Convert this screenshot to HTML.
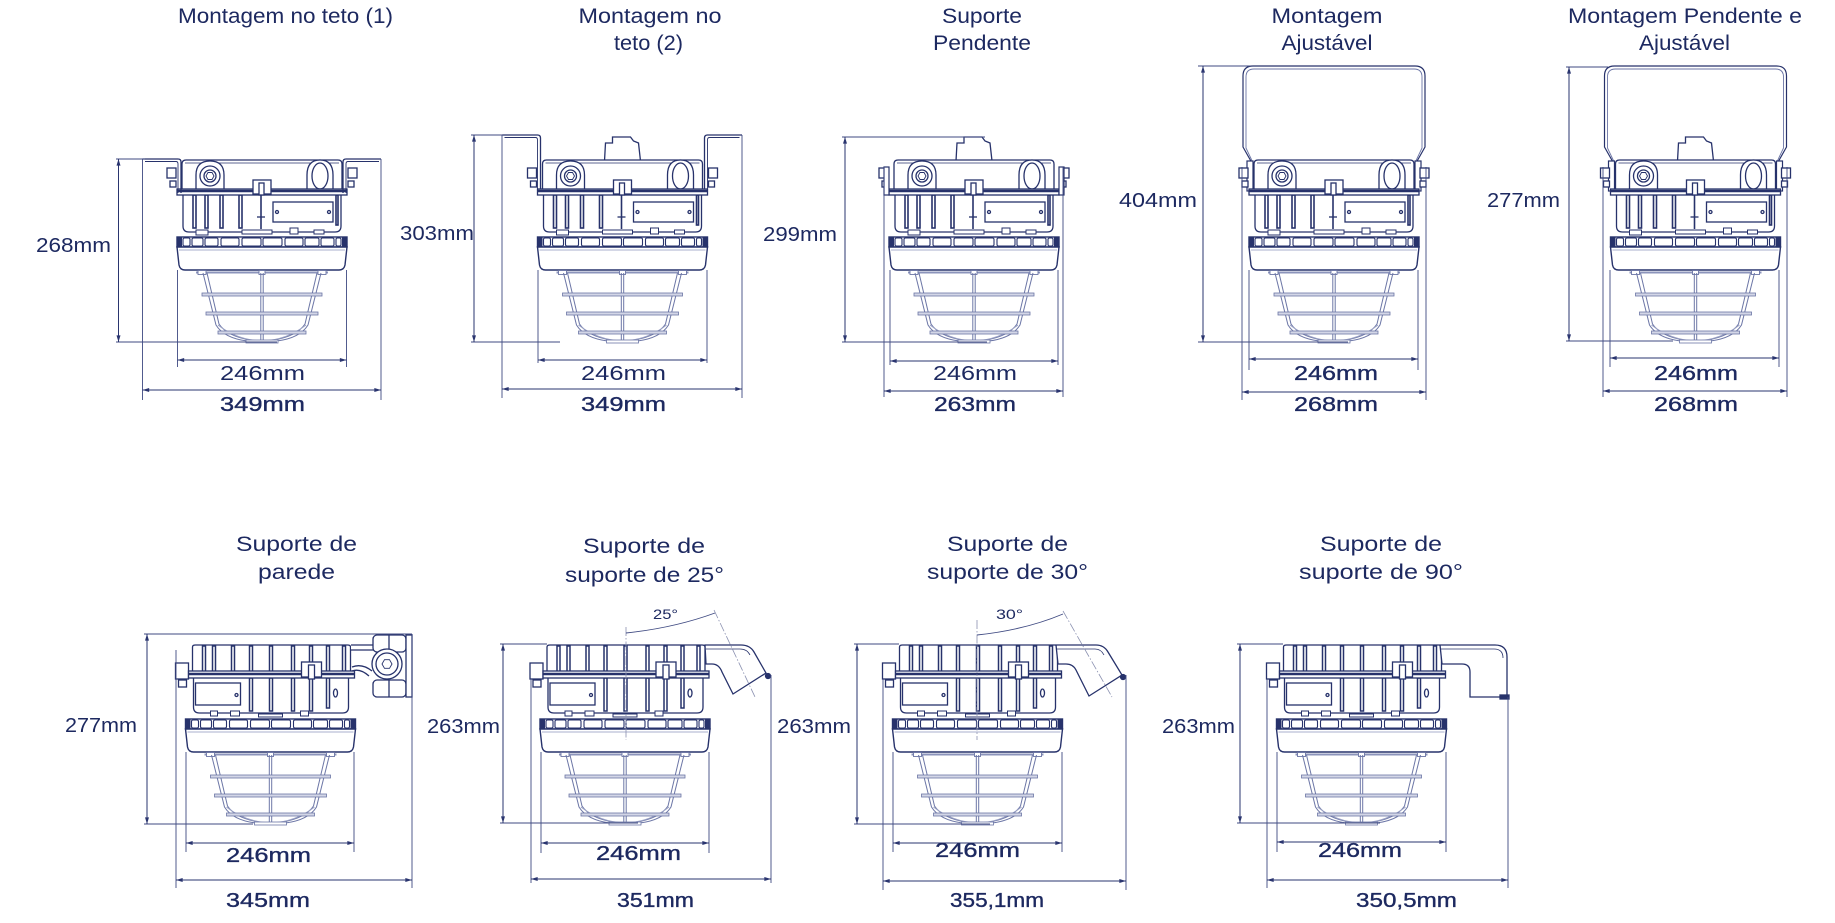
<!DOCTYPE html>
<html><head><meta charset="utf-8">
<style>
html,body{margin:0;padding:0;background:#fff;}
svg{display:block;}
text{font-family:"Liberation Sans",Arial,sans-serif;fill:#1d2960;}
.t{font-size:21px;}
.d{font-size:20px;}
.s{font-size:14px;}
.b{stroke:#1d2960;stroke-width:0.35px;}
.ex{stroke:#3f4a82;stroke-width:0.9;fill:none;}
.dm{stroke:#2a356f;stroke-width:1;fill:none;marker-start:url(#a);marker-end:url(#a);}
.ln{stroke:#27326b;stroke-width:1.3;fill:#fff;}
.cl{stroke:#8a90b0;stroke-width:0.8;fill:none;stroke-dasharray:9 2 1.5 2;}
</style></head><body>
<svg width="1835" height="923" viewBox="0 0 1835 923" xmlns="http://www.w3.org/2000/svg">
<defs>
<marker id="a" viewBox="0 0 10 6" refX="10" refY="3" markerWidth="7" markerHeight="4" markerUnits="userSpaceOnUse" orient="auto-start-reverse"><path d="M0,0L10,3L0,6z" fill="#2a356f"/></marker>

<g id="bot">
 <rect x="-85" y="0" width="170" height="10" fill="#fff" stroke="#27326b" stroke-width="1.4"/>
 <g fill="#fff" stroke="#27326b" stroke-width="1.1">
  <rect x="-79" y="1" width="7" height="8" rx="1.5"/><rect x="-70" y="1" width="11" height="8" rx="1.5"/>
  <rect x="-57" y="1" width="13" height="8" rx="1.5"/><rect x="-41" y="1" width="18" height="8" rx="1.5"/>
  <rect x="-20" y="1" width="19" height="8" rx="1.5"/><rect x="1" y="1" width="19" height="8" rx="1.5"/>
  <rect x="23" y="1" width="18" height="8" rx="1.5"/><rect x="43" y="1" width="14" height="8" rx="1.5"/>
  <rect x="59" y="1" width="13" height="8" rx="1.5"/><rect x="74" y="1" width="5" height="8" rx="1.5"/>
 </g>
 <rect x="-85" y="0" width="5" height="10" fill="#27326b"/>
 <rect x="80" y="0" width="5" height="10" fill="#27326b"/>
 <path d="M-85,10 L85,10 L83,28 Q82,33 77,33 L-77,33 Q-82,33 -83,28 Z" fill="#fff" stroke="#27326b" stroke-width="1.4"/>
 <line x1="-83" y1="13" x2="83" y2="13" stroke="#8c94bb" stroke-width="0.8"/>
 <line x1="-66" y1="35.5" x2="66" y2="35.5" stroke="#8c94bb" stroke-width="2"/>
 <g fill="#fff" stroke="#6c76a6" stroke-width="0.9">
  <rect x="-64" y="33.5" width="8" height="4"/><rect x="56" y="33.5" width="8" height="4"/>
  <rect x="-3" y="33.5" width="6" height="4"/>
 </g>
 <g fill="none" stroke="#6c76a6" stroke-width="1">
  <path d="M-59,36 L-46,88 Q-38,101 -15,104"/>
  <path d="M-55,36 L-43,87 Q-35,99 -12,103"/>
  <path d="M59,36 L46,88 Q38,101 15,104"/>
  <path d="M55,36 L43,87 Q35,99 12,103"/>
  <path d="M-44,88 Q-25,103 0,104 Q25,103 44,88" stroke="#9aa1c4"/>
  <line x1="-1.2" y1="36" x2="-1.2" y2="104"/>
  <line x1="1.2" y1="36" x2="1.2" y2="104"/>
 </g>
 <g fill="#d3d6e7" stroke="#6c76a6" stroke-width="0.8">
  <rect x="-60" y="56" width="120" height="3"/>
  <rect x="-56" y="75" width="112" height="3"/>
  <rect x="-44" y="94" width="88" height="3"/>
  <rect x="-16" y="103" width="32" height="3" fill="#fff"/>
 </g>
</g>

<g id="topA" stroke="#27326b" stroke-width="1.3" fill="none">
 <rect x="-95" y="-69" width="9" height="10" fill="#fff"/>
 <rect x="-92" y="-56" width="6" height="6" fill="#fff"/>
 <rect x="86" y="-69" width="9" height="10" fill="#fff"/>
 <rect x="86" y="-56" width="6" height="6" fill="#fff"/>
 <path d="M-79,-44 L-79,-11 Q-79,-5 -73,-5 L73,-5 Q79,-5 79,-11 L79,-44" fill="#fff"/>
 <g stroke-width="1.6" fill="#fff">
  <rect x="-69" y="-42" width="3" height="33"/><rect x="-57" y="-42" width="3" height="33"/>
  <rect x="-42" y="-42" width="3" height="33"/><rect x="-23" y="-42" width="3" height="33"/>
  <rect x="74" y="-42" width="2" height="30"/>
 </g>
 <rect x="11" y="-35" width="60" height="20" fill="#fff"/>
 <circle cx="15" cy="-25" r="1.5"/><circle cx="67" cy="-25" r="1.5"/>
 <line x1="-1" y1="-46" x2="-1" y2="-8" stroke-width="1.6"/>
 <line x1="-5" y1="-20" x2="3" y2="-20"/>
 <g fill="#fff" stroke-width="1">
  <rect x="-66" y="-7" width="12" height="5"/><rect x="-20" y="-7" width="30" height="4"/>
  <rect x="28" y="-9" width="8" height="6"/><rect x="52" y="-7" width="10" height="4"/>
 </g>
 <path d="M-80,-46 L-80,-73 Q-80,-77 -76,-77 L76,-77 Q80,-77 80,-73 L80,-46" fill="#fff"/>
 <line x1="-77" y1="-74" x2="77" y2="-74" stroke-width="0.8"/>
 <path d="M-66,-47 L-66,-62 Q-66,-76 -52,-76 Q-38,-76 -38,-62 L-38,-47" fill="#fff"/>
 <circle cx="-52" cy="-61" r="10"/>
 <circle cx="-52" cy="-61" r="6"/>
 <polygon points="-48,-61 -50,-57.5 -54,-57.5 -56,-61 -54,-64.5 -50,-64.5" stroke-width="0.9"/>
 <path d="M45,-47 L45,-62 Q45,-77 58,-77 Q71,-77 71,-62 L71,-47" fill="#fff"/>
 <ellipse cx="58" cy="-61" rx="8" ry="13"/>
 <rect x="-85" y="-48" width="170" height="6" fill="#fff"/>
 <line x1="-85" y1="-46" x2="85" y2="-46" stroke-width="2.6"/>
 <rect x="-9" y="-57" width="18" height="14" fill="#fff"/>
 <rect x="-3" y="-54" width="5" height="12" fill="#fff"/>
</g>

<g id="topB" stroke="#27326b" stroke-width="1.3" fill="none">
 <rect x="-95" y="-56" width="13" height="16" fill="#fff"/>
 <rect x="-92" y="-39" width="8" height="7" fill="#fff"/>
 <path d="M-77,-41 L-77,-12 Q-77,-6 -71,-6 L72,-6 Q78,-6 78,-12 L78,-41" fill="#fff"/>
 <g stroke-width="1.5" fill="#fff">
  <rect x="-21" y="-41" width="3" height="33"/><rect x="-1" y="-41" width="3" height="33"/>
  <rect x="21" y="-41" width="3" height="33"/><rect x="39" y="-41" width="3" height="33"/>
  <rect x="56" y="-41" width="3" height="30"/>
 </g>
 <rect x="-75" y="-36" width="45" height="22" fill="#fff"/>
 <circle cx="-34" cy="-24" r="1.5"/>
 <ellipse cx="65" cy="-26" rx="2" ry="4"/>
 <g fill="#fff" stroke-width="1">
  <rect x="-60" y="-8" width="7" height="5"/><rect x="-40" y="-8" width="9" height="5"/>
  <rect x="-12" y="-5" width="24" height="3"/><rect x="30" y="-8" width="8" height="5"/>
 </g>
 <path d="M-78,-46 L-78,-72 Q-78,-74 -75,-74 L77,-74 Q80,-74 80,-72 L80,-46" fill="#fff"/>
 <g stroke-width="1.5" fill="#fff">
  <rect x="-68" y="-73" width="3" height="26"/><rect x="-58" y="-73" width="3" height="26"/>
  <rect x="-39" y="-73" width="3" height="26"/><rect x="-21" y="-73" width="3" height="26"/>
  <rect x="-1" y="-73" width="3" height="26"/><rect x="21" y="-73" width="3" height="26"/>
  <rect x="39" y="-73" width="3" height="26"/><rect x="56" y="-73" width="3" height="26"/>
  <rect x="72" y="-73" width="3" height="26"/>
 </g>
 <rect x="-82" y="-48" width="166" height="7" fill="#fff"/>
 <line x1="-82" y1="-45" x2="84" y2="-45" stroke-width="2.4"/>
 <rect x="31" y="-57" width="20" height="15" fill="#fff"/>
 <rect x="38" y="-54" width="6" height="14" fill="#fff"/>
</g>

<g id="cap" stroke="#27326b" stroke-width="1.3" fill="#fff">
 <path d="M-18,-76 L-17,-94 L-10,-94 L-10,-100 L8,-100 L11,-96 L16,-94 L18,-76 Z"/>
</g>

<g id="yoke" stroke="#27326b" stroke-width="1.2" fill="none">
 <path d="M-82,-66 L-82,-74 L-91,-90 L-91,-161 Q-91,-171 -81,-171 L81,-171 Q91,-171 91,-161 L91,-90 L82,-74 L82,-66"/>
 <path d="M-79,-70 L-88,-89 L-88,-160 Q-88,-168 -80,-168 L80,-168 Q88,-168 88,-160 L88,-89 L79,-70" stroke="#6c76a6" stroke-width="0.9"/>
 <rect x="-87" y="-76" width="6" height="30" fill="#fff"/>
 <rect x="81" y="-76" width="6" height="30" fill="#fff"/>
</g>
</defs>

<!-- ============ ROW 1 ============ -->
<g transform="translate(262,237)">
 <use href="#topA"/><use href="#bot"/>
 <g stroke="#27326b" stroke-width="1.3" fill="none">
  <path d="M-119.5,-78 L-84,-78 Q-81,-78 -81,-75 L-81,-44"/>
  <path d="M-117,-75.5 L-86,-75.5 Q-84,-75.5 -84,-73 L-84,-44" stroke-width="0.9"/>
  <path d="M119,-78 L84,-78 Q81,-78 81,-75 L81,-44"/>
  <path d="M117,-75.5 L86,-75.5 Q84,-75.5 84,-73 L84,-44" stroke-width="0.9"/>
 </g>
</g>
<path class="ex" d="M116,159H145 M116,342H277 M142.5,159V400 M381,159V400 M177.5,270V367 M346.5,270V367"/>
<path class="dm" d="M118.5,159V342"/>
<path class="dm" d="M142.5,390H381"/>
<path class="dm" d="M177.5,360H346.5"/>

<g transform="translate(622.5,237)">
 <use href="#cap"/>
 <g stroke="#27326b" stroke-width="1.3" fill="none">
  <path d="M-120.5,-102 L-85,-102 Q-82,-102 -82,-99 L-82,-44"/>
  <path d="M-118,-99.5 L-87,-99.5 Q-85,-99.5 -85,-97 L-85,-44" stroke-width="0.9"/>
  <path d="M119.5,-102 L85,-102 Q82,-102 82,-99 L82,-44"/>
  <path d="M117,-99.5 L87,-99.5 Q85,-99.5 85,-97 L85,-44" stroke-width="0.9"/>
 </g>
 <use href="#topA"/><use href="#bot"/>
</g>
<path class="ex" d="M471,135H503 M471,342H560 M502,135V398 M742,135V398 M538,270V363 M707,270V363"/>
<path class="dm" d="M474,135V342"/>
<path class="dm" d="M502,389H742"/>
<path class="dm" d="M538,360H707"/>

<g transform="translate(974,237)">
 <use href="#cap"/>
 <use href="#topA"/><use href="#bot"/>
 <g stroke="#27326b" stroke-width="1.2" fill="#fff">
  <rect x="-90" y="-70" width="5" height="28"/>
  <rect x="85" y="-70" width="5" height="28"/>
 </g>
</g>
<path class="ex" d="M842,137H985 M842,342H987 M884,167V397 M1063,167V397 M890,270V365 M1058,270V365"/>
<path class="dm" d="M845,137V342"/>
<path class="dm" d="M884,391H1063"/>
<path class="dm" d="M890,361H1058"/>

<g transform="translate(1334,237)">
 <use href="#yoke"/>
 <use href="#topA"/><use href="#bot"/>
</g>
<path class="ex" d="M1198,66H1250 M1198,342H1348 M1242,167V400 M1426,167V400 M1249,270V370 M1418,270V370"/>
<path class="dm" d="M1203,66V342"/>
<path class="dm" d="M1242,392H1426"/>
<path class="dm" d="M1249,359H1418"/>

<g transform="translate(1695.5,237)">
 <use href="#yoke"/>
 <use href="#cap"/>
 <use href="#topA"/><use href="#bot"/>
</g>
<path class="ex" d="M1566,67H1608 M1566,341H1673 M1603,167V397 M1787,167V397 M1610,270V367 M1779,270V367"/>
<path class="dm" d="M1569,67V341"/>
<path class="dm" d="M1603,391H1787"/>
<path class="dm" d="M1610,358H1779"/>

<!-- ============ ROW 2 ============ -->
<g transform="translate(270.5,719)"><use href="#topB"/><use href="#bot"/></g>
<g stroke="#27326b" stroke-width="1.3" fill="#fff">
 <path d="M351,645 L374,645 L374,650 L351,650"/>
 <path d="M352,667 Q362,663 372,671" fill="none"/>
 <path d="M352,671 Q360,668 369,676" fill="none"/>
 <rect x="373" y="635" width="33" height="17" rx="4"/>
 <line x1="389" y1="635" x2="389" y2="652"/>
 <rect x="373" y="680" width="33" height="17" rx="4"/>
 <line x1="389" y1="680" x2="389" y2="697"/>
 <circle cx="387" cy="664" r="15"/>
 <circle cx="387" cy="664" r="11"/>
 <polygon points="392,664 389.5,668.3 384.5,668.3 382,664 384.5,659.7 389.5,659.7" stroke-width="0.9"/>
 <rect x="406" y="635" width="6" height="62"/>
</g>
<path class="ex" d="M144,634H412 M144,824H253 M176,650V888 M412,634V888 M186,752V852 M354,752V852"/>
<path class="dm" d="M147,634V824"/>
<path class="dm" d="M176,880H412"/>
<path class="dm" d="M186,843H354"/>

<g transform="translate(625,719)"><use href="#topB"/><use href="#bot"/></g>
<g stroke="#27326b" stroke-width="1.3" fill="#fff">
 <path d="M705,645 L741,645 Q750,645 754,652 L766,673 L733,694 L722,672 Q719,664 712,664 L706,664 Z"/>
 <path d="M706,649 L740,649 Q747,649 750,655" fill="none" stroke-width="0.8"/>
 <circle cx="768" cy="676" r="2.5" fill="#27326b"/>
</g>
<path class="cl" d="M626,627V740 M714,610L755,697"/>
<path d="M626,633 Q674,628 715,613" fill="none" stroke="#3f4a82" stroke-width="0.9"/>
<path class="ex" d="M500,644H547 M500,823H638 M531,679V883 M771,675V883 M541,752V853 M709,752V853"/>
<path class="dm" d="M503,644V823"/>
<path class="dm" d="M531,879H771"/>
<path class="dm" d="M541,843H709"/>

<g transform="translate(977.5,719)"><use href="#topB"/><use href="#bot"/></g>
<g stroke="#27326b" stroke-width="1.3" fill="#fff">
 <path d="M1056,645 L1096,645 Q1104,645 1108,652 L1122,675 L1089,696 L1076,670 Q1073,664 1066,664 L1058,664 Z"/>
 <path d="M1057,649 L1095,649 Q1101,649 1104,655" fill="none" stroke-width="0.8"/>
 <circle cx="1123" cy="677" r="2.5" fill="#27326b"/>
</g>
<path class="cl" d="M977,620V740 M1063,611L1112,697"/>
<path d="M977,635 Q1025,630 1063,614" fill="none" stroke="#3f4a82" stroke-width="0.9"/>
<path class="ex" d="M854,644H899 M854,824H990 M883,679V890 M1126,675V890 M893,752V852 M1062,752V852"/>
<path class="dm" d="M857,644V824"/>
<path class="dm" d="M883,881H1126"/>
<path class="dm" d="M893,843H1062"/>

<g transform="translate(1361.5,719)"><use href="#topB"/><use href="#bot"/></g>
<g stroke="#27326b" stroke-width="1.3" fill="#fff">
 <path d="M1440,645 L1495,645 Q1507,645 1507,657 L1507,697 L1470,697 L1470,672 Q1470,664 1462,664 L1442,664 Z"/>
 <path d="M1441,649 L1494,649 Q1503,649 1503,658" fill="none" stroke-width="0.8"/>
 <rect x="1500" y="695" width="9" height="4" fill="#27326b"/>
</g>
<path class="ex" d="M1237,644H1283 M1237,823H1380 M1267,679V888 M1508,697V888 M1277,752V852 M1446,752V852"/>
<path class="dm" d="M1240,644V823"/>
<path class="dm" d="M1267,880H1508"/>
<path class="dm" d="M1277,842H1446"/>

<!-- ============ TITLES ============ -->
<g class="t" text-anchor="middle">
 <text x="285.5" y="23" textLength="215" lengthAdjust="spacingAndGlyphs">Montagem no teto (1)</text>
 <text x="650" y="23" textLength="143" lengthAdjust="spacingAndGlyphs">Montagem no</text>
 <text x="648.5" y="50" textLength="69" lengthAdjust="spacingAndGlyphs">teto (2)</text>
 <text x="982" y="23" textLength="80" lengthAdjust="spacingAndGlyphs">Suporte</text>
 <text x="982" y="50" textLength="98" lengthAdjust="spacingAndGlyphs">Pendente</text>
 <text x="1327" y="23" textLength="111" lengthAdjust="spacingAndGlyphs">Montagem</text>
 <text x="1327" y="50" textLength="91" lengthAdjust="spacingAndGlyphs">Ajustável</text>
 <text x="1685" y="23" textLength="234" lengthAdjust="spacingAndGlyphs">Montagem Pendente e</text>
 <text x="1684.5" y="50" textLength="91" lengthAdjust="spacingAndGlyphs">Ajustável</text>
 <text x="296.5" y="551" textLength="121" lengthAdjust="spacingAndGlyphs">Suporte de</text>
 <text x="296.5" y="579" textLength="77" lengthAdjust="spacingAndGlyphs">parede</text>
 <text x="644" y="553" textLength="122" lengthAdjust="spacingAndGlyphs">Suporte de</text>
 <text x="644.5" y="582" textLength="159" lengthAdjust="spacingAndGlyphs">suporte de 25°</text>
 <text x="1007.5" y="551" textLength="121" lengthAdjust="spacingAndGlyphs">Suporte de</text>
 <text x="1007.5" y="579" textLength="161" lengthAdjust="spacingAndGlyphs">suporte de 30°</text>
 <text x="1381" y="551" textLength="122" lengthAdjust="spacingAndGlyphs">Suporte de</text>
 <text x="1381" y="579" textLength="164" lengthAdjust="spacingAndGlyphs">suporte de 90°</text>
</g>

<!-- ============ DIMENSION TEXT ============ -->
<g class="d" text-anchor="middle">
 <text x="73.5" y="252" textLength="75" lengthAdjust="spacingAndGlyphs">268mm</text>
 <text x="262.5" y="380" textLength="85" lengthAdjust="spacingAndGlyphs">246mm</text>
 <text class="b" x="262.5" y="411" textLength="85" lengthAdjust="spacingAndGlyphs">349mm</text>

 <text x="437" y="240" textLength="74" lengthAdjust="spacingAndGlyphs">303mm</text>
 <text x="623.5" y="380" textLength="85" lengthAdjust="spacingAndGlyphs">246mm</text>
 <text class="b" x="623.5" y="411" textLength="85" lengthAdjust="spacingAndGlyphs">349mm</text>

 <text x="800" y="241" textLength="74" lengthAdjust="spacingAndGlyphs">299mm</text>
 <text x="975" y="380" textLength="84" lengthAdjust="spacingAndGlyphs">246mm</text>
 <text class="b" x="975" y="411" textLength="82" lengthAdjust="spacingAndGlyphs">263mm</text>

 <text x="1158" y="207" textLength="78" lengthAdjust="spacingAndGlyphs">404mm</text>
 <text class="b" x="1336" y="380" textLength="84" lengthAdjust="spacingAndGlyphs">246mm</text>
 <text class="b" x="1336" y="411" textLength="84" lengthAdjust="spacingAndGlyphs">268mm</text>

 <text x="1523.5" y="207" textLength="73" lengthAdjust="spacingAndGlyphs">277mm</text>
 <text class="b" x="1696" y="380" textLength="84" lengthAdjust="spacingAndGlyphs">246mm</text>
 <text class="b" x="1696" y="411" textLength="84" lengthAdjust="spacingAndGlyphs">268mm</text>

 <text x="101" y="732" textLength="72" lengthAdjust="spacingAndGlyphs">277mm</text>
 <text class="b" x="268.5" y="862" textLength="85" lengthAdjust="spacingAndGlyphs">246mm</text>
 <text class="b" x="268" y="907" textLength="84" lengthAdjust="spacingAndGlyphs">345mm</text>

 <text x="463.5" y="733" textLength="73" lengthAdjust="spacingAndGlyphs">263mm</text>
 <text class="b" x="638.5" y="860" textLength="85" lengthAdjust="spacingAndGlyphs">246mm</text>
 <text class="b" x="655.5" y="907" textLength="77" lengthAdjust="spacingAndGlyphs">351mm</text>

 <text x="814" y="733" textLength="74" lengthAdjust="spacingAndGlyphs">263mm</text>
 <text class="b" x="977.5" y="857" textLength="85" lengthAdjust="spacingAndGlyphs">246mm</text>
 <text class="b" x="997" y="907" textLength="94" lengthAdjust="spacingAndGlyphs">355,1mm</text>

 <text x="1198.5" y="733" textLength="73" lengthAdjust="spacingAndGlyphs">263mm</text>
 <text class="b" x="1360" y="857" textLength="84" lengthAdjust="spacingAndGlyphs">246mm</text>
 <text class="b" x="1406.5" y="907" textLength="101" lengthAdjust="spacingAndGlyphs">350,5mm</text>
</g>
<g class="s" text-anchor="middle">
 <text x="665.5" y="619" textLength="25" lengthAdjust="spacingAndGlyphs">25°</text>
 <text x="1009.5" y="619" textLength="27" lengthAdjust="spacingAndGlyphs">30°</text>
</g>
</svg>
</body></html>
